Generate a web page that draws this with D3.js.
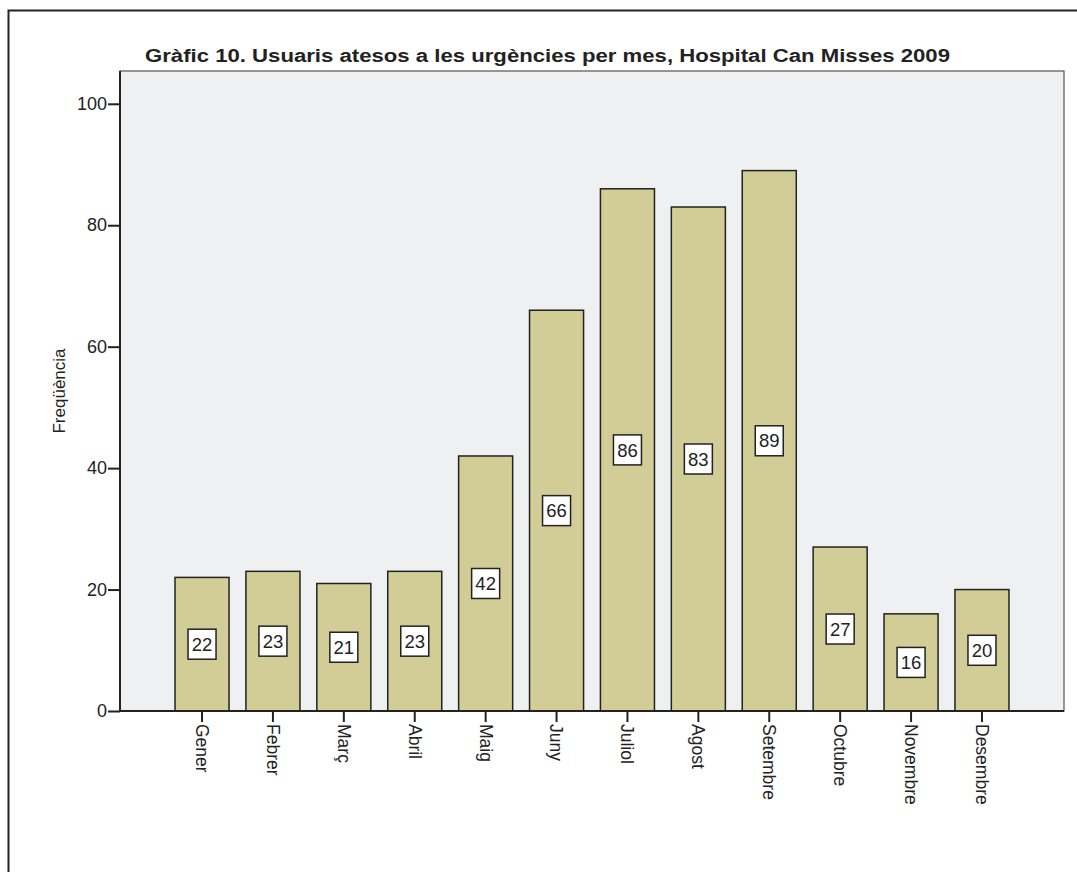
<!DOCTYPE html>
<html><head><meta charset="utf-8">
<script src="https://cdn.jsdelivr.net/npm/d3@7"></script>
<style>body{margin:0;background:#fff;} svg{display:block;font-family:"Liberation Sans",Arial,sans-serif;}</style>
</head><body>
<svg id="chart" width="1077" height="872"></svg>
<script>
const months = ["Gener","Febrer","Març","Abril","Maig","Juny","Juliol","Agost","Setembre","Octubre","Novembre","Desembre"];
const counts = [22,23,21,23,42,66,86,83,89,27,16,20];
const yTicks = [0,20,40,60,80,100];
const titleText = "Gràfic 10. Usuaris atesos a les urgències per mes, Hospital Can Misses 2009";
const yLabel = "Freqüència";

const svg = d3.select("#chart");
const L = 120, R = 1064, T = 71, B = 711;
const FF = "Liberation Sans, Arial, sans-serif";

svg.append("path").attr("d", "M8.5,880V10.5H1085").attr("fill","none").attr("stroke","#222").attr("stroke-width",2);

const x = d3.scaleBand().domain(months).range([L, R]).paddingInner(0.238).paddingOuter(0.776);
const y = d3.scaleLinear().domain([0, 105.4]).range([B, T]);

svg.append("rect").attr("x",L).attr("y",T).attr("width",R-L).attr("height",B-T)
  .attr("fill","#eff0f2").attr("stroke","#555").attr("stroke-width",1.2);

svg.append("text").attr("x",145).attr("y",62).attr("font-size",18).attr("font-weight","bold")
  .attr("fill","#222").attr("textLength",805).attr("lengthAdjust","spacingAndGlyphs").text(titleText);

svg.selectAll("rect.bar").data(counts).join("rect").attr("class","bar")
  .attr("x",(d,i)=>x(months[i])).attr("width",x.bandwidth())
  .attr("y",d=>y(d)).attr("height",d=>B-y(d))
  .attr("fill","#d2cd96").attr("stroke","#222").attr("stroke-width",1.5);

const lab = svg.selectAll("g.lab").data(counts).join("g").attr("class","lab")
  .attr("transform",(d,i)=>`translate(${x(months[i])+x.bandwidth()/2},${y(d/2)})`);
lab.append("rect").attr("x",-14).attr("y",-15).attr("width",28).attr("height",30)
  .attr("fill","#fff").attr("stroke","#222").attr("stroke-width",1.5);
lab.append("text").attr("text-anchor","middle").attr("dy","0.36em").attr("font-size",18.5).attr("fill","#222").text(d=>d);

const yAxis = svg.append("g").attr("transform",`translate(${L},0)`)
  .call(d3.axisLeft(y).tickValues(yTicks).tickSize(12).tickPadding(1));
yAxis.select(".domain").attr("stroke","#222").attr("stroke-width",2).attr("d",`M0,${T}V${B}`);
yAxis.selectAll(".tick line").attr("stroke","#222").attr("stroke-width",2);
yAxis.selectAll(".tick text").attr("font-size",18).attr("fill","#222").attr("font-family",FF);

const xAxis = svg.append("g").attr("transform",`translate(0,${B})`)
  .call(d3.axisBottom(x).tickSize(11).tickPadding(2));
xAxis.select(".domain").attr("stroke","#222").attr("stroke-width",2).attr("d",`M${L},0H${R}`);
xAxis.selectAll(".tick line").attr("stroke","#222").attr("stroke-width",2);
xAxis.selectAll(".tick text").attr("font-size",17.5).attr("fill","#222").attr("font-family",FF)
  .attr("transform","rotate(90)").attr("text-anchor","start").attr("x",13).attr("y",0).attr("dy","0.35em");

svg.append("text").attr("transform","translate(65,391) rotate(-90)").attr("text-anchor","middle")
  .attr("font-size",17).attr("fill","#222").attr("font-family",FF).text(yLabel);
</script>
</body></html>
